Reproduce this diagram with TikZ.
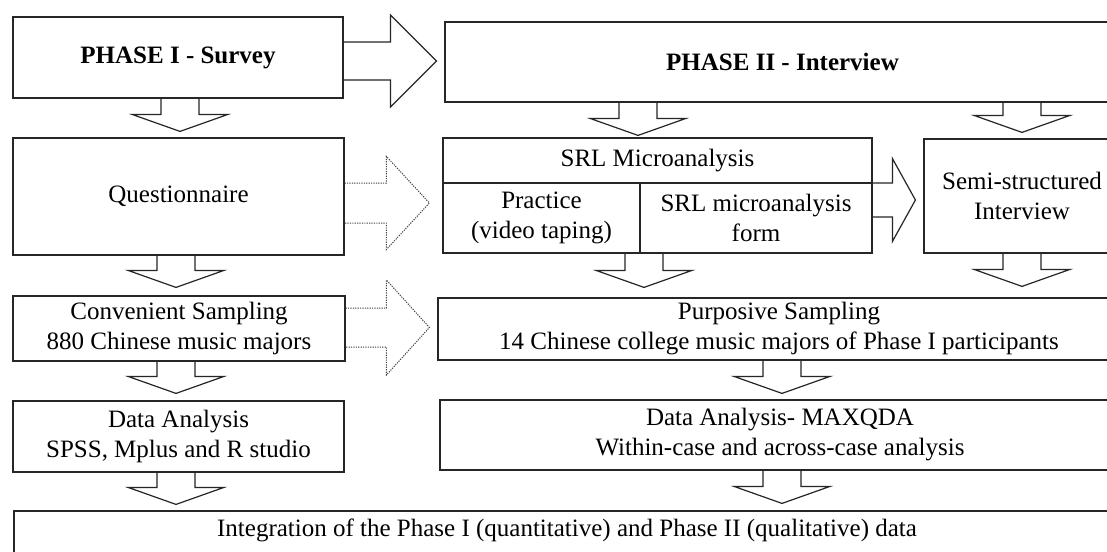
\documentclass[tikz,border=0pt]{standalone}
\usepackage{fontspec}
\setmainfont{Liberation Serif}
\usetikzlibrary{calc}

% Hollow block arrow pointing down: source, target, column, gap above target
\newcommand\downblock[4]{%
  \draw[blk] let \p1=(#1.south -| #3), \p2=(#2.north -| #3) in
    (\x1-19pt,\y1) -- (\x1-19pt,\y2+#4pt+17pt) -- (\x1-48pt,\y2+#4pt+17pt)
    -- (\x1,\y2+#4pt) -- (\x1+48pt,\y2+#4pt+17pt) -- (\x1+19pt,\y2+#4pt+17pt)
    -- (\x1+19pt,\y1);}

% Hollow block arrow pointing right:
% style, source, target, level, gap, shaft half height, head half height, head length
\newcommand\rightblock[8]{%
  \draw[#1] let \p1=(#2.east |- #4), \p2=(#3.west |- #4) in
    (\x1,\y1+#6pt) -- (\x2-#5pt-#8pt,\y1+#6pt) -- (\x2-#5pt-#8pt,\y1+#7pt)
    -- (\x2-#5pt,\y1) -- (\x2-#5pt-#8pt,\y1-#7pt) -- (\x2-#5pt-#8pt,\y1-#6pt)
    -- (\x1,\y1-#6pt);}

\begin{document}
\begin{tikzpicture}[x=1pt,y=-1pt,
  box/.style={draw=black!85, line width=1.2pt, inner sep=0pt, align=center,
              font=\fontsize{25}{30}\selectfont},
  lbl/.style={inner sep=0pt, align=center, font=\fontsize{25}{30}\selectfont},
  blk/.style={draw=black!85, line width=1.2pt, line join=miter},
  dots/.style={draw=black!75, line width=1pt, dash pattern=on 1.2pt off 1.2pt, line join=miter}]
\useasboundingbox (0,0) rectangle (1107,551);
\fill[white] (0,0) rectangle (1107,551);
\clip (0,0) rectangle (1107,551);

% Phase I column
\node[box, minimum width=330, minimum height=81] (p1) at (178,57.5) {\bfseries PHASE I - Survey};
\node[box, minimum width=331, minimum height=117] (quest) at (178.5,196.5) {Questionnaire};
\node[box, minimum width=332, minimum height=65] (conv) at (179,328.5) {Convenient Sampling\\880 Chinese music majors};
\node[box, minimum width=331, minimum height=71] (dal) at (178.5,436.5) {Data Analysis\\SPSS, Mplus and R studio};

% Phase II column
\node[box, minimum width=675, minimum height=80] (p2) at (782.5,62) {\bfseries PHASE II - Interview};
\node[box, minimum width=429, minimum height=45] (srltop) at (657.5,160.5) {SRL Microanalysis};
\node[box, minimum width=197, minimum height=70] (practice) at (541.5,218) {Practice\\(video taping)};
\node[box, minimum width=232, minimum height=70] (form) at (756,218) {SRL microanalysis\\form};
\node[box, minimum width=196, minimum height=114] (semi) at (1022,196) {Semi-structured\\Interview};
\node[box, minimum width=682, minimum height=62] (purp) at (779,329) {Purposive Sampling\\14 Chinese college music majors of Phase I participants};
\node[box, minimum width=680, minimum height=70] (dar) at (780,435) {Data Analysis- MAXQDA\\Within-case and across-case analysis};

% Integration
\node[box, minimum width=1106, minimum height=49] (integ) at (567,535.5) {};
\node[lbl] (integlbl) at (567,530) {Integration of the Phase I (quantitative) and Phase II (qualitative) data};

% Arrow columns and levels
\coordinate (xa) at (180,0);
\coordinate (xb) at (176,0);
\coordinate (xc) at (638,0);
\coordinate (xd) at (644,0);
\coordinate (xe) at (1022,0);
\coordinate (xf) at (782,0);
\coordinate (ya) at (0,61);
\coordinate (yb) at (0,203);
\coordinate (yc) at (0,327.5);
\coordinate (yd) at (0,200);

% Down arrows
\downblock{p1}{quest}{xa}{6}
\downblock{quest}{conv}{xb}{8}
\downblock{conv}{dal}{xb}{7}
\downblock{dal}{integ}{xb}{6}
\downblock{p2}{srltop}{xc}{2}
\downblock{form}{purp}{xd}{10}
\downblock{p2}{semi}{xe}{6}
\downblock{semi}{purp}{xe}{11}
\downblock{purp}{dar}{xf}{6}
\downblock{dar}{integ}{xf}{7}

% Right arrows
\rightblock{blk}{p1}{p2}{ya}{8}{19}{46}{46}
\rightblock{dots}{quest}{practice}{yb}{13}{20}{46.5}{43}
\rightblock{dots}{conv}{purp}{yc}{8}{19.5}{47.5}{43}
\rightblock{blk}{form}{semi}{yd}{8}{17}{41.5}{23}
\end{tikzpicture}
\end{document}
